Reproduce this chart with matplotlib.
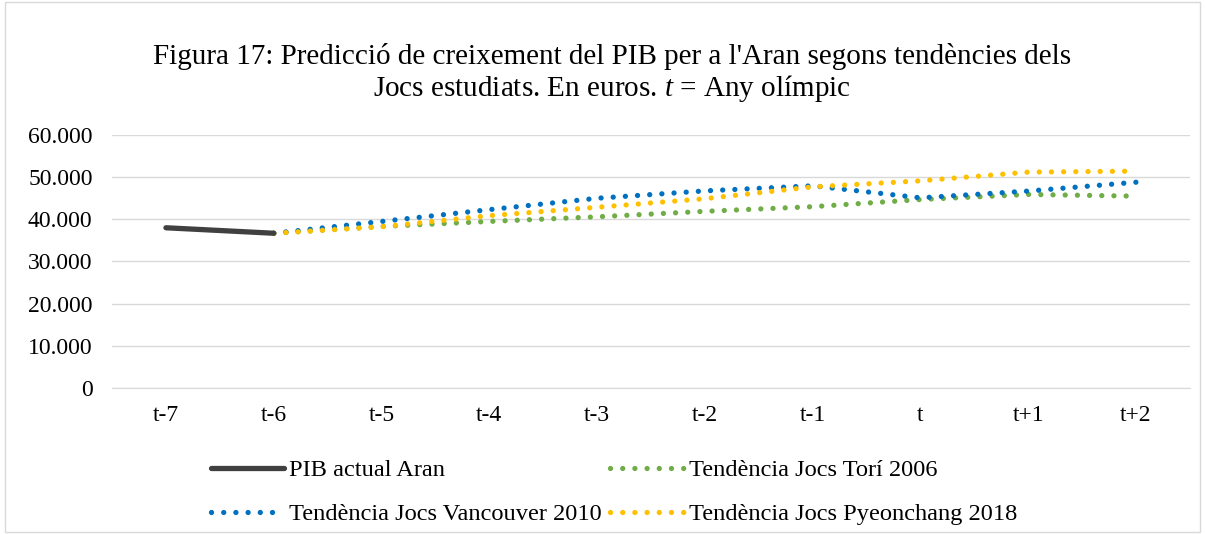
import matplotlib.pyplot as plt
from matplotlib.ticker import FuncFormatter
from matplotlib.patches import Rectangle

plt.rcParams['font.family'] = ['Liberation Serif', 'DejaVu Serif']
plt.rcParams['mathtext.fontset'] = 'custom'
plt.rcParams['mathtext.it'] = 'Liberation Serif:italic'
plt.rcParams['mathtext.rm'] = 'Liberation Serif'

# categories (t = Olympic year)
categories = ['t-7', 't-6', 't-5', 't-4', 't-3', 't-2', 't-1', 't', 't+1', 't+2']

# real GDP Aran (only first two periods)
pib_actual = [38000, 36700]
# trend projections from t-6 onwards
torino = [36700, 38300, 39500, 40600, 41900, 43000, 44700, 45900, 45500]
vancouver = [36700, 39500, 42300, 45000, 46750, 47950, 45100, 46700, 48800]
pyeongchang = [36700, 38250, 40870, 42860, 44900, 47700, 49130, 51200, 51430]

x = list(range(len(categories)))

fig = plt.figure(figsize=(12.05, 5.34), dpi=100)
fig.patches.append(Rectangle((0.004, 0.004), 0.992, 0.992, transform=fig.transFigure,
                             fill=False, edgecolor='#D9D9D9', linewidth=1))
ax = fig.add_axes([0.093, 0.2734, 0.8945, 0.4738])

dots = (0, (0.01, 2.3))
ax.plot(x[:2], pib_actual, color='#404040', lw=3.8, solid_capstyle='round',
        label='PIB actual Aran', zorder=5)
ax.plot(x[1:], torino, color='#70AD47', lw=3.8, linestyle=dots, dash_capstyle='round',
        label='Tendència Jocs Torí 2006', zorder=3)
ax.plot(x[1:], vancouver, color='#0070C0', lw=3.8, linestyle=dots, dash_capstyle='round',
        label='Tendència Jocs Vancouver 2010', zorder=3)
ax.plot(x[1:], pyeongchang, color='#FFC000', lw=3.8, linestyle=dots, dash_capstyle='round',
        label='Tendència Jocs Pyeonchang 2018', zorder=4)

ax.set_xlim(-0.5, len(categories) - 0.5)
ax.set_ylim(0, 60000)
ax.set_yticks(range(0, 60001, 10000))
ax.yaxis.set_major_formatter(FuncFormatter(lambda v, p: f'{int(v):,}'.replace(',', '.')))
ax.set_xticks(x)
ax.set_xticklabels(categories)
ax.tick_params(axis='both', length=0, labelsize=17, colors='black')
ax.tick_params(axis='x', pad=12)
ax.tick_params(axis='y', pad=14)
ax.grid(axis='y', color='#D9D9D9', lw=1)
ax.set_axisbelow(True)
for s in ['top', 'right', 'left']:
    ax.spines[s].set_visible(False)
ax.spines['bottom'].set_color('#D9D9D9')

fig.text(0.508, 0.895, "Figura 17: Predicció de creixement del PIB per a l'Aran segons tendències dels",
         ha='center', va='center', fontsize=21)
fig.text(0.508, 0.835, "Jocs estudiats. En euros. $\\mathit{t}$ = Any olímpic",
         ha='center', va='center', fontsize=21)

h, l = ax.get_legend_handles_labels()
order = [0, 2, 1, 3]
fig.legend([h[i] for i in order], [l[i] for i in order], ncol=2, frameon=False,
           loc='upper left', bbox_to_anchor=(0.175, 0.14), fontsize=17.6,
           handlelength=3.0, handletextpad=0.2, columnspacing=0.35,
           labelspacing=0.9, borderpad=0, borderaxespad=0)

fig.savefig('out.png', dpi=100)
